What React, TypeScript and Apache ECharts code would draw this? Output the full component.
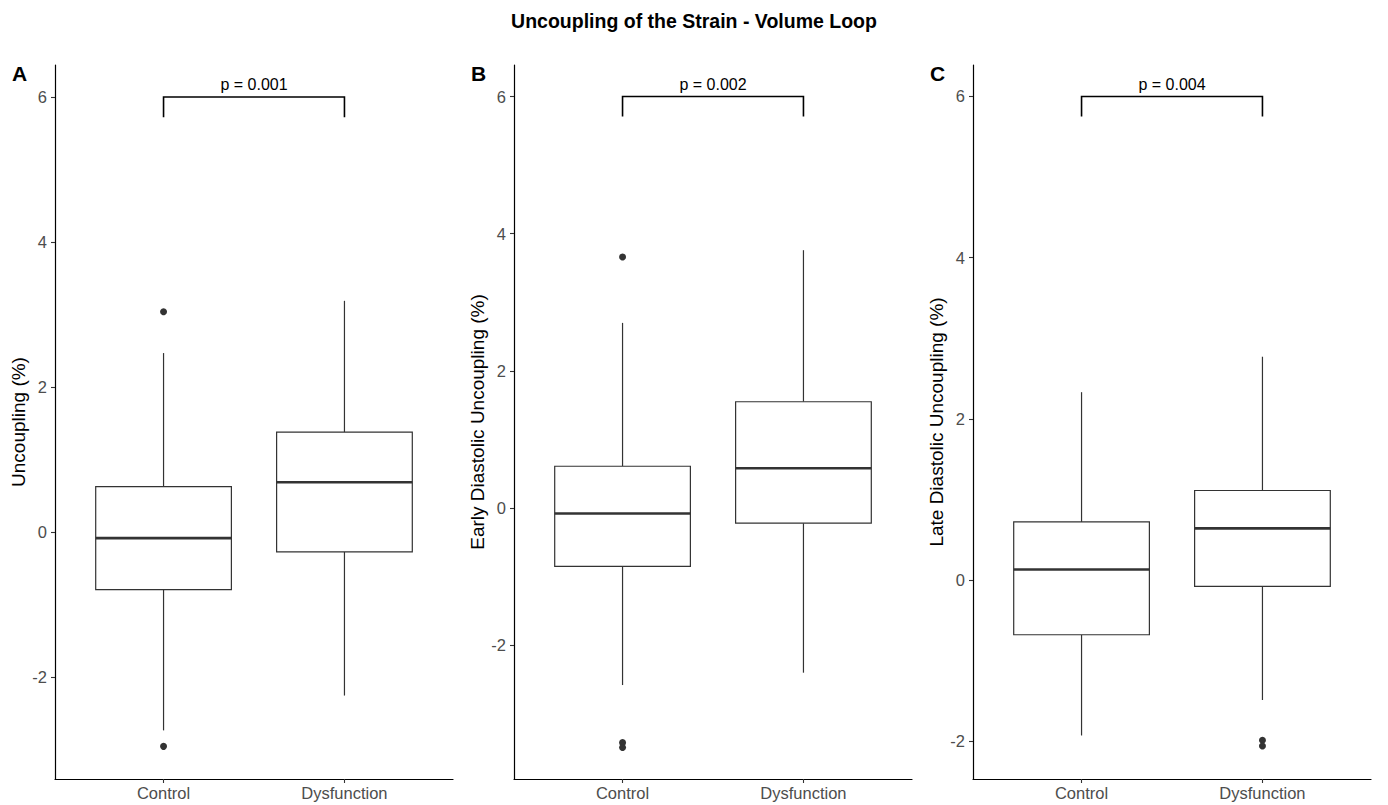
import React, { useEffect, useRef } from "react";
import * as echarts from "echarts";

// ---- data ----
const groups = ["Control", "Dysfunction"];
const chartTitle = "Uncoupling of the Strain - Volume Loop";
const panelLabels = ["A", "B", "C"];
const yTitles = ["Uncoupling (%)", "Early Diastolic Uncoupling (%)", "Late Diastolic Uncoupling (%)"];
const pValues = ["p = 0.001", "p = 0.002", "p = 0.004"];
const yTicks = [-2, 0, 2, 4, 6];
const yMins = [-3.40, -3.95, -2.47];
const yMaxs = [6.44, 6.46, 6.39];

// [group position, lower whisker, Q1, median, Q3, upper whisker]
const boxesA = [
  [1, -2.73, -0.79, -0.08, 0.63, 2.47],
  [2, -2.25, -0.27, 0.69, 1.38, 3.19],
];
const boxesB = [
  [1, -2.58, -0.85, -0.08, 0.61, 2.70],
  [2, -2.40, -0.22, 0.58, 1.55, 3.76],
];
const boxesC = [
  [1, -1.93, -0.68, 0.13, 0.72, 2.33],
  [2, -1.49, -0.08, 0.64, 1.11, 2.77],
];
const outliersA = [[1, 3.04], [1, -2.95]];
const outliersB = [[1, 3.66], [1, -3.42], [1, -3.49]];
const outliersC = [[2, -1.99], [2, -2.06]];

// [from group, to group, bracket top, tip end]
const bracketA = [[1, 2, 6.0, 5.72]];
const bracketB = [[1, 2, 6.0, 5.71]];
const bracketC = [[1, 2, 6.0, 5.75]];

const boxes = [boxesA, boxesB, boxesC];
const outliers = [outliersA, outliersB, outliersC];
const brackets = [bracketA, bracketB, bracketC];

const FONT = "'Liberation Sans', Arial, Helvetica, sans-serif";
const GRID_LEFTS = [55, 514, 973];
const GRID_W = 398;
const BOX_HALF = 0.375;
const STROKE = "#333333";

export default function App() {
  const ref = useRef<HTMLDivElement>(null);

  useEffect(() => {
    if (!ref.current) return;
    const chart = echarts.init(ref.current, null, { renderer: "svg" });

    const grids: any[] = [];
    const xAxes: any[] = [];
    const yAxes: any[] = [];
    const series: any[] = [];
    const graphics: any[] = [];

    for (let i = 0; i < 3; i++) {
      grids.push({ left: GRID_LEFTS[i], top: 65, width: GRID_W, height: 714, containLabel: false });
      xAxes.push({
        type: "value",
        gridIndex: i,
        min: 0.4,
        max: 2.6,
        axisLine: { show: true, onZero: false, lineStyle: { color: "#000", width: 1.2 } },
        axisTick: { show: true, customValues: [1, 2], length: 4, lineStyle: { color: STROKE, width: 1.1 } },
        axisLabel: {
          customValues: [1, 2],
          formatter: (v: number) => groups[Math.round(v) - 1] ?? "",
          color: "#4d4d4d",
          fontSize: 16.5,
          fontFamily: FONT,
          margin: 5,
        },
        splitLine: { show: false },
      });
      yAxes.push({
        type: "value",
        gridIndex: i,
        min: yMins[i],
        max: yMaxs[i],
        name: yTitles[i],
        nameLocation: "middle",
        nameGap: 26,
        nameTextStyle: { color: "#000", fontSize: 19, fontFamily: FONT },
        axisLine: { show: true, onZero: false, lineStyle: { color: "#000", width: 1.2 } },
        axisTick: { show: true, customValues: yTicks, length: 4, lineStyle: { color: STROKE, width: 1.1 } },
        axisLabel: {
          customValues: yTicks,
          color: "#4d4d4d",
          fontSize: 16.5,
          fontFamily: FONT,
          margin: 8,
        },
        splitLine: { show: false },
      });

      series.push({
        type: "custom",
        xAxisIndex: i,
        yAxisIndex: i,
        data: boxes[i],
        encode: { x: 0, y: [1, 2, 3, 4, 5] },
        renderItem: (params: any, api: any) => {
          const x = api.value(0);
          const lo = api.value(1), q1 = api.value(2), med = api.value(3), q3 = api.value(4), hi = api.value(5);
          const pLo = api.coord([x, lo]);
          const pQ1 = api.coord([x, q1]);
          const pQ3 = api.coord([x, q3]);
          const pHi = api.coord([x, hi]);
          const tl = api.coord([x - BOX_HALF, q3]);
          const br = api.coord([x + BOX_HALF, q1]);
          const mL = api.coord([x - BOX_HALF, med]);
          const mR = api.coord([x + BOX_HALF, med]);
          const ls = { stroke: STROKE, lineWidth: 1.2 };
          return {
            type: "group",
            children: [
              { type: "line", shape: { x1: pHi[0], y1: pHi[1], x2: pQ3[0], y2: pQ3[1] }, style: ls },
              { type: "line", shape: { x1: pQ1[0], y1: pQ1[1], x2: pLo[0], y2: pLo[1] }, style: ls },
              {
                type: "rect",
                shape: { x: tl[0], y: tl[1], width: br[0] - tl[0], height: br[1] - tl[1] },
                style: { fill: "#fff", stroke: STROKE, lineWidth: 1.2 },
              },
              { type: "line", shape: { x1: mL[0], y1: mL[1], x2: mR[0], y2: mR[1] }, style: { stroke: STROKE, lineWidth: 2.6 } },
            ],
          };
        },
      });

      series.push({
        type: "scatter",
        xAxisIndex: i,
        yAxisIndex: i,
        data: outliers[i],
        symbol: "circle",
        symbolSize: 7,
        itemStyle: { color: STROKE, opacity: 1 },
        silent: true,
      });

      const pText = pValues[i];
      series.push({
        type: "custom",
        xAxisIndex: i,
        yAxisIndex: i,
        data: brackets[i],
        encode: { x: [0, 1], y: [2, 3] },
        renderItem: (params: any, api: any) => {
          const a = api.value(0), b = api.value(1), top = api.value(2), tip = api.value(3);
          const p1 = api.coord([a, tip]);
          const p2 = api.coord([a, top]);
          const p3 = api.coord([b, top]);
          const p4 = api.coord([b, tip]);
          const mid = api.coord([(a + b) / 2, top]);
          return {
            type: "group",
            children: [
              {
                type: "polyline",
                shape: { points: [p1, p2, p3, p4] },
                style: { stroke: "#000", lineWidth: 1.6, fill: "none" },
              },
              {
                type: "text",
                x: mid[0],
                y: mid[1] - 4,
                style: {
                  text: pText,
                  fill: "#000",
                  fontSize: 16,
                  fontFamily: FONT,
                  align: "center",
                  verticalAlign: "bottom",
                },
              },
            ],
          };
        },
      });

      graphics.push({
        type: "text",
        left: GRID_LEFTS[i] - 43,
        top: 63,
        style: { text: panelLabels[i], fill: "#000", fontSize: 21, fontWeight: "bold", fontFamily: FONT },
      });
    }

    chart.setOption({
      animation: false,
      backgroundColor: "#fff",
      title: {
        text: chartTitle,
        left: "center",
        top: 6,
        textStyle: { fontSize: 19.5, fontWeight: "bold", color: "#000", fontFamily: FONT },
      },
      grid: grids,
      xAxis: xAxes,
      yAxis: yAxes,
      series,
      graphic: graphics,
    });

    return () => chart.dispose();
  }, []);

  return (
    <div
      ref={ref}
      style={{ position: "fixed", left: 0, top: 0, width: 1388, height: 805, background: "#fff" }}
    />
  );
}
